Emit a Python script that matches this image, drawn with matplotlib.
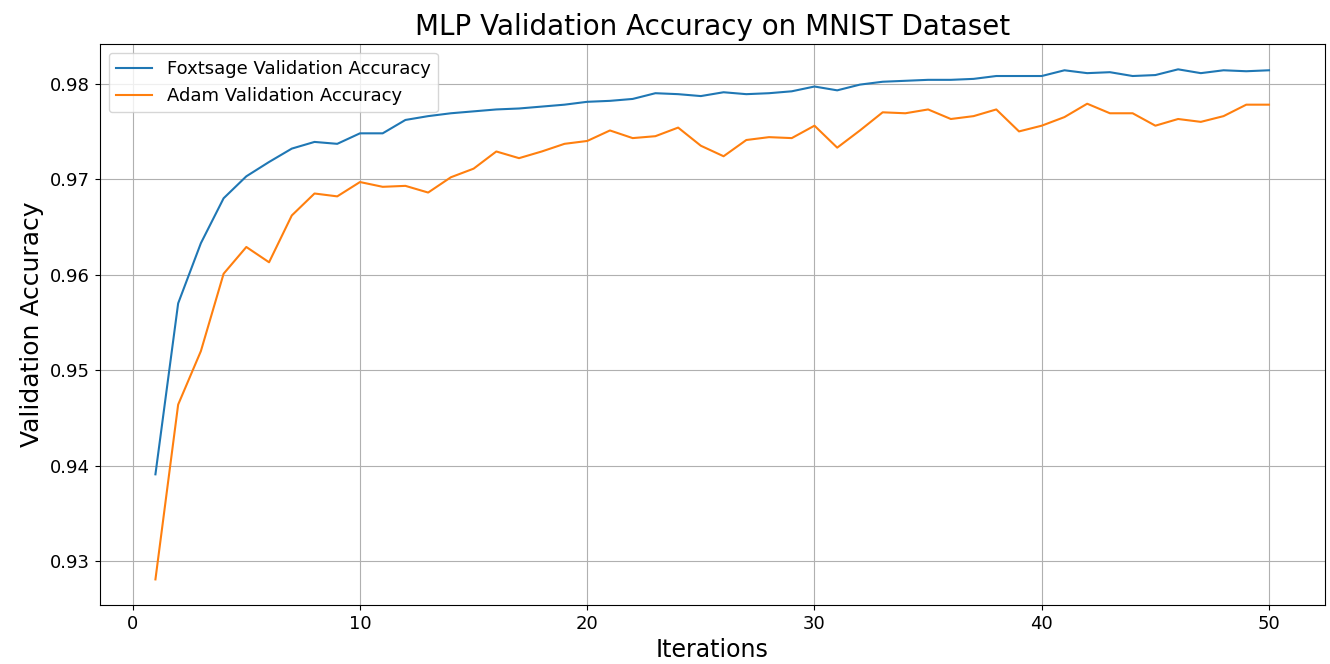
import matplotlib.pyplot as plt

# validation accuracy per iteration
iterations = list(range(1, 51))

foxtsage_acc = [
    0.9391, 0.9570, 0.9633, 0.9680, 0.9703, 0.9718, 0.9732, 0.9739, 0.9737, 0.9748,
    0.9748, 0.9762, 0.9766, 0.9769, 0.9771, 0.9773, 0.9774, 0.9776, 0.9778, 0.9781,
    0.9782, 0.9784, 0.9790, 0.9789, 0.9787, 0.9791, 0.9789, 0.9790, 0.9792, 0.9797,
    0.9793, 0.9799, 0.9802, 0.9803, 0.9804, 0.9804, 0.9805, 0.9808, 0.9808, 0.9808,
    0.9814, 0.9811, 0.9812, 0.9808, 0.9809, 0.9815, 0.9811, 0.9814, 0.9813, 0.9814,
]

adam_acc = [
    0.9281, 0.9464, 0.9520, 0.9601, 0.9629, 0.9613, 0.9662, 0.9685, 0.9682, 0.9697,
    0.9692, 0.9693, 0.9686, 0.9702, 0.9711, 0.9729, 0.9722, 0.9729, 0.9737, 0.9740,
    0.9751, 0.9743, 0.9745, 0.9754, 0.9735, 0.9724, 0.9741, 0.9744, 0.9743, 0.9756,
    0.9733, 0.9751, 0.9770, 0.9769, 0.9773, 0.9763, 0.9766, 0.9773, 0.9750, 0.9756,
    0.9765, 0.9779, 0.9769, 0.9769, 0.9756, 0.9763, 0.9760, 0.9766, 0.9778, 0.9778,
]

fig = plt.figure(figsize=(13.3, 6.64), dpi=100)
ax = fig.add_axes([0.075, 0.089, 0.921, 0.845])

ax.plot(iterations, foxtsage_acc, label="Foxtsage Validation Accuracy")
ax.plot(iterations, adam_acc, label="Adam Validation Accuracy")

ax.set_title("MLP Validation Accuracy on MNIST Dataset", fontsize=20)
ax.set_xlabel("Iterations", fontsize=17)
ax.set_ylabel("Validation Accuracy", fontsize=18)
ax.tick_params(labelsize=13)
ax.legend(loc="upper left", fontsize=13)
ax.grid(True)

fig.savefig("out.png")
